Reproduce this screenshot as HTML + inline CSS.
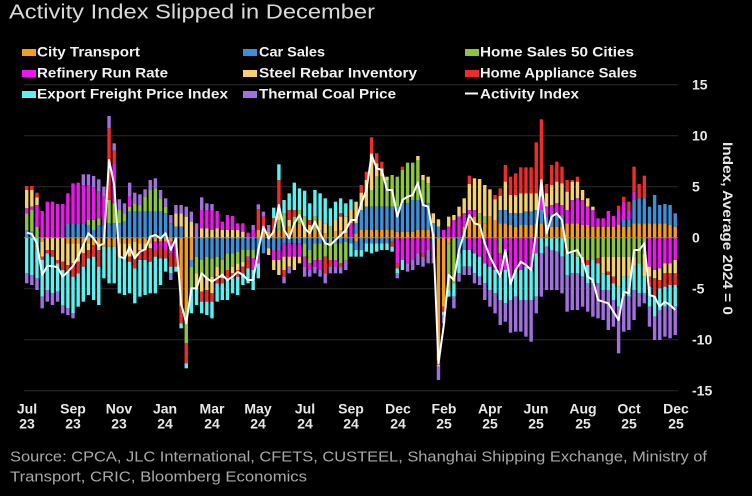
<!DOCTYPE html>
<html><head><meta charset="utf-8"><style>
html,body{margin:0;padding:0;background:#000;}
svg{display:block;}
text{font-family:"Liberation Sans",Arial,sans-serif;}
</style></head><body>
<svg id="s" width="752" height="496" viewBox="0 0 752 496" xmlns="http://www.w3.org/2000/svg">
<rect x="0" y="0" width="752" height="496" fill="#000"/>
<text x="9" y="18.5" font-size="20" fill="#dadada" textLength="366" lengthAdjust="spacingAndGlyphs">Activity Index Slipped in December</text>
<g font-size="14" font-weight="bold" fill="#f2f2f2">
<rect x="22" y="49" width="14" height="7" fill="#f39c1e"/>
<text x="37" y="56.7" textLength="103" lengthAdjust="spacingAndGlyphs">City Transport</text>
<rect x="243" y="49" width="14" height="7" fill="#3d8fd9"/>
<text x="259" y="56.7" textLength="66" lengthAdjust="spacingAndGlyphs">Car Sales</text>
<rect x="465" y="49" width="14" height="7" fill="#8cc63e"/>
<text x="480" y="56.7" textLength="154" lengthAdjust="spacingAndGlyphs">Home Sales 50 Cities</text>
<rect x="22" y="70" width="14" height="7" fill="#ee16ee"/>
<text x="37" y="77.5" textLength="131" lengthAdjust="spacingAndGlyphs">Refinery Run Rate</text>
<rect x="243" y="70" width="14" height="7" fill="#f5d26b"/>
<text x="259" y="77.5" textLength="158" lengthAdjust="spacingAndGlyphs">Steel Rebar Inventory</text>
<rect x="465" y="70" width="14" height="7" fill="#ee2c2c"/>
<text x="480" y="77.5" textLength="157" lengthAdjust="spacingAndGlyphs">Home Appliance Sales</text>
<rect x="22" y="91" width="14" height="7" fill="#5cf0f0"/>
<text x="37" y="98.3" textLength="191" lengthAdjust="spacingAndGlyphs">Export Freight Price Index</text>
<rect x="243" y="91" width="14" height="7" fill="#a070e0"/>
<text x="259" y="98.3" textLength="137" lengthAdjust="spacingAndGlyphs">Thermal Coal Price</text>
<rect x="465" y="92.5" width="13" height="2" fill="#fff"/>
<text x="480" y="98.3" textLength="99" lengthAdjust="spacingAndGlyphs">Activity Index</text>
</g>
<g id="grid" stroke="#2a2a2a" stroke-width="1">
<line x1="24" x2="678" y1="84.7" y2="84.7"/>
<line x1="24" x2="678" y1="135.7" y2="135.7"/>
<line x1="24" x2="678" y1="186.7" y2="186.7"/>
<line x1="24" x2="678" y1="288.7" y2="288.7"/>
<line x1="24" x2="678" y1="339.7" y2="339.7"/>
<line x1="24" x2="678" y1="390.7" y2="390.7"/>
</g>
<g id="bars"></g>
<line x1="24" x2="678" y1="237.7" y2="237.7" stroke="#a89478" stroke-width="1" opacity="0.8"/>
<polyline id="ln" fill="none" stroke="#ffffff" stroke-width="2" stroke-linejoin="round" points=""/>
<g font-size="14" font-weight="bold" fill="#e8e8e8">
<text x="692" y="89.5">15</text>
<text x="692" y="140.7">10</text>
<text x="692" y="191.7">5</text>
<text x="692" y="242.7">0</text>
<text x="692" y="293.7">-5</text>
<text x="692" y="344.7">-10</text>
<text x="692" y="395.7">-15</text>
</g>
<text transform="translate(723,228.5) rotate(90)" text-anchor="middle" font-size="14" font-weight="bold" fill="#e8e8e8" textLength="173" lengthAdjust="spacingAndGlyphs">Index, Average 2024 = 0</text>
<g font-size="14" font-weight="bold" fill="#e8e8e8" text-anchor="middle">
<text x="27" y="413.3">Jul</text><text x="27" y="428.3">23</text>
<text x="73" y="413.3">Sep</text><text x="73" y="428.3">23</text>
<text x="119" y="413.3">Nov</text><text x="119" y="428.3">23</text>
<text x="165" y="413.3">Jan</text><text x="165" y="428.3">24</text>
<text x="212" y="413.3">Mar</text><text x="212" y="428.3">24</text>
<text x="258" y="413.3">May</text><text x="258" y="428.3">24</text>
<text x="305" y="413.3">Jul</text><text x="305" y="428.3">24</text>
<text x="351" y="413.3">Sep</text><text x="351" y="428.3">24</text>
<text x="398" y="413.3">Dec</text><text x="398" y="428.3">24</text>
<text x="444" y="413.3">Feb</text><text x="444" y="428.3">25</text>
<text x="490" y="413.3">Apr</text><text x="490" y="428.3">25</text>
<text x="536" y="413.3">Jun</text><text x="536" y="428.3">25</text>
<text x="583" y="413.3">Aug</text><text x="583" y="428.3">25</text>
<text x="629" y="413.3">Oct</text><text x="629" y="428.3">25</text>
<text x="676" y="413.3">Dec</text><text x="676" y="428.3">25</text>
</g>
<g font-size="15" fill="#a8a8a8">
<text x="10" y="461.7" textLength="697" lengthAdjust="spacingAndGlyphs">Source: CPCA, JLC International, CFETS, CUSTEEL, Shanghai Shipping Exchange, Ministry of</text>
<text x="10" y="481.5" textLength="297" lengthAdjust="spacingAndGlyphs">Transport, CRIC, Bloomberg Economics</text>
</g>
</svg>
<script>
(function(){
var C={o:"#f39c1e",b:"#3d8fd9",g:"#8cc63e",m:"#ee16ee",y:"#f5d26b",r:"#ee2c2c",c:"#5cf0f0",p:"#a070e0"};
var D=[
["r228 y240 m295 g310 b360","c490 p520"],
["r228 y240 m290 g300 b365","c495 p525"],
["r248 y262 m285 g350","c505 p540"],
["m303","o395 y440 r450 c560 p595"],
["m275","y420 r430 c540 p575"],
["m275","y420 r440 c550 p585"],
["m282","y450 r460 c545 p575"],
["m282","y455 r480 c585 p610"],
["m250 b340","o400 y465 r485 c595 p615"],
["m220 b340","o400 y460 r500 c610 p625"],
["m218 b340","o400 y455 r490 c590"],
["p193 m225 b340","o400 y430 r470 c575"],
["p193 m225 g330 b345","o400 y420 r445 c555"],
["p198 m232 g330 b360","o405 r440 c570"],
["p208 m245 g325 b345","o400 y420 r470 c585"],
["p230 m260 b345","o410 c505"],
["p18 r55 g270 b340","o410 c520"],
["p100 r122 m160 g280 b340","o410 c520"],
["p268 g300 b340","o400 y440 c550"],
["p280 g310 b335","o400 y440 c555"],
["p218 m260 g290 b305","o400 y440 r455 c550"],
["p248 g280 b305","o395 y445 r475 c580"],
["p253 g285 b305","o400 y420 r450 c560"],
["p238 g260 b305","o400 y420 r450 c555"],
["p210 g240 b305","o400 y415 r455 c550"],
["p205 g235 b305","o395 m420 r440 c550"],
["p240 g265 b305","o395 m410 r445 c525"],
["p265 g290 b310","o395 m420 r445 c485"],
["p315 b340","o395 m430 r470 c490 p510"],
["p285 y310 b350","o395 m440 r470 c485"],
["p285 y310 b350","o590 r640 c655"],
["p290 y320","o600 g700 r760 c775"],
["p305 y335","o450 b470 g540 c610"],
["p340","b440 g490 y540 c585"],
["p262 m300 y355","b450 g500 y545 r575 c610"],
["p280 m300 y355","b440 g500 y540 r575 c615"],
["p282 m300 y360","b445 g500 y550 r575 c625"],
["m303 y355","b440 g470 y500 r520 c575"],
["m335 y360","b450 g490 y505 r520 c570"],
["m315 y360","b430 g480 r510 c570"],
["m318 y360","b430 g470 y490 r505 c550"],
["m340 y360","b425 g460 y480 r500 c555"],
["m340 y365","b420 g455 y470 r490 c525"],
["m368","b420 g440 m450 r475 c520"],
["p345 m360","b420 g445 m480 c540"],
["p283 r298 o360","b440 m460 c505"],
["p305 r320 o360","b430"],
["p345 o365","b415 y435"],
["c293 r325 o360","b420 m450 y480"],
["c163 r210 y300 g330 o360","b420 m450 y495"],
["c270 g310 o345","b400 m440 y480 r500 p520"],
["c250 r300 y330 o350","b400 m440 y470 p490"],
["c218 r300 g320 o345","b400 m440 y480"],
["c235 g300 o340","b400 m440 y460"],
["c242 g320 y350","b400 g440 m470 p500"],
["c280 r330 y345 o360","b420 g460 m480 p500"],
["c240 g320 o360","b400 g450 m470 p490"],
["c250 y330 o360","b400 g450 m480 p500"],
["c265 y340 o370","b400 g440 r490 p520"],
["c295 g350","g450 r470 p490"],
["c275 y330 o365","b400 g450 m470 p490"],
["c265 r310 y320 o360","b400 g460 r470 p490"],
["c280 y320 o370","b395 g450 p480"],
["c268 y300 m340","b400 c440"],
["y275 b340 o370","o395 b420 c440"],
["r225 y248 b300 o360","b420 c440"],
["r185 y210 b290 o360","b400 c425"],
["r82 y130 g240 b290 o360","b400 c430"],
["r130 y160 g200 b290 o360","b400 c425"],
["r155 y175 g200 b290 o360","b400 c420"],
["y200 g210 b290 o360","b400 c420"],
["g195 b290 o360","b395 r410 c425"],
["g200 b290 o365","m460 r475 c490 p505"],
["r170 g180 b280 o365","m450 c480"],
["g158 b280 o365","m460 p485"],
["g158 b270 o365","m450 p480"],
["y138 g150 b270 o360","m430 p465"],
["y195 g210 b280 o360","m430 r440 p470"],
["y200 g220 b280 o360","m420 p460"],
["y310 b340 o370","b400 p460"],
["y328 b350","o750 r765 c770 p810"],
["m360","o590 r605 c615 p640"],
["y320 m350","o400 g540 c560"],
["y315 m330","g520 c560 p595"],
["y290 m320","b430 c490 p515"],
["y265 m310 o350","b420 c470 p495"],
["r197 y222 m300 o330","m420 c470 p495"],
["y205 m300 o320","m430 c490 p520"],
["y207 g310 o330","m440 c500 p525"],
["y225 g320 o340","m460 c520 p570"],
["y238 o320","m470 c540 p590"],
["r255 y268 o330","m480 c550 p610"],
["r235 y258 b300 o340","g430 m500 c570 p645"],
["r165 y215 b300 o340","m480 c580 p635"],
["r200 y255 b310 o345","m510 c570 p668"],
["r190 y255 b310 o350","m480 c560 p665"],
["r172 y250 b310 o345","m480 c570 p665"],
["r172 y250 b305 o345","m470 c570 p680"],
["r172 y250 b305 o345","m480 c570 p695"],
["r97 y250 b300 o340","m430 c560 p610"],
["r28 y225 m260 b300 o340","c430 p560"],
["r222 y250 m290 b320 o345","c410 p540"],
["r165 y225 m285 b310 o350","c420 p540"],
["r155 y215 m280 b310 o350","c425 p540"],
["r170 y220 m285 b315 o350","c440 p550"],
["r210 y245 m300 o340","g430 c495 p605"],
["r210 y215 m270 o340","g430 c490 p600"],
["r200 y215 m265 o340","g440 c490 p600"],
["y240 m270 o345","g440 y460 c500 p590"],
["y265 m290 o345","g450 r465 c520 p605"],
["y290 m300 o350","g450 c520 p620"],
["m325 o350","g445 r460 c520 p625"],
["m325 o350","g440 y490 c540 p630"],
["m303 o350","g440 y485 r495 c540 p660"],
["m318 o350","g440 y500 r520 c570 p650"],
["r287 m298 o345","g440 y530 c590 p730"],
["r260 m275 b330 o350","g440 y500 c560 p665"],
["r275 m300 b330 o350","g440 y500 c560 p660"],
["r170 m245 b270 o340","g440 y470 c540 p630"],
["r222 b265 o340","g460 c550 p590"],
["r197 b265 o340","g430 y500 c550 p580"],
["b290 o340","m470 y500 r530 c590 p650"],
["b255 o340","m480 y505 r560 c620 p690"],
["b285 o340","m475 y510 r535 c600 p690"],
["b282 o340","m460 y490 r530 c590 p680"],
["b285 o345","m460 y490 r525 c590 p685"],
["b310 o350","m450 y490 r525 c590 p675"]
];
var L=[368,372,400,495,468,468,472,500,485,468,440,405,370,385,408,400,150,225,440,445,
410,445,425,418,380,375,385,370,420,385,580,640,535,535,490,505,515,505,495,510,
500,485,495,510,510,420,350,385,365,285,360,385,340,315,355,370,335,370,400,405,
390,375,360,330,330,280,240,135,175,180,240,240,320,270,260,255,218,285,290,380,
760,650,495,510,420,370,315,340,345,400,440,470,500,420,522,480,455,465,480,360,
210,370,320,310,330,430,425,420,450,500,510,570,575,580,605,630,545,550,420,420,
400,555,560,590,575,585,600];
var NS="http://www.w3.org/2000/svg";
var g=document.getElementById("bars");
function Y(d){return 110+d/3;}
var Z=383, W=3.4;
function rect(x,y1,y2,col){
  if(y2<=y1) return;
  var r=document.createElementNS(NS,"rect");
  r.setAttribute("x",(x-W/2).toFixed(2));
  r.setAttribute("y",Y(y1).toFixed(2));
  r.setAttribute("width",W);
  r.setAttribute("height",((y2-y1)/3).toFixed(2));
  r.setAttribute("fill",C[col]);
  g.appendChild(r);
}
var pts=[];
for(var i=0;i<D.length;i++){
  var x=26.7+i*5.147;
  var pos=D[i][0].split(" ");
  for(var k=0;k<pos.length;k++){
    var col=pos[k][0], top=+pos[k].slice(1);
    var bot=(k+1<pos.length)?+pos[k+1].slice(1):Z;
    rect(x,top,bot,col);
  }
  var neg=D[i][1].split(" "), prev=Z;
  for(var k=0;k<neg.length;k++){
    var col=neg[k][0], b=+neg[k].slice(1);
    rect(x,prev,b,col); prev=b;
  }
  if(i<L.length) pts.push(x.toFixed(2)+","+Y(L[i]).toFixed(2));
}
document.getElementById("ln").setAttribute("points",pts.join(" "));
})();
</script>
</body></html>
